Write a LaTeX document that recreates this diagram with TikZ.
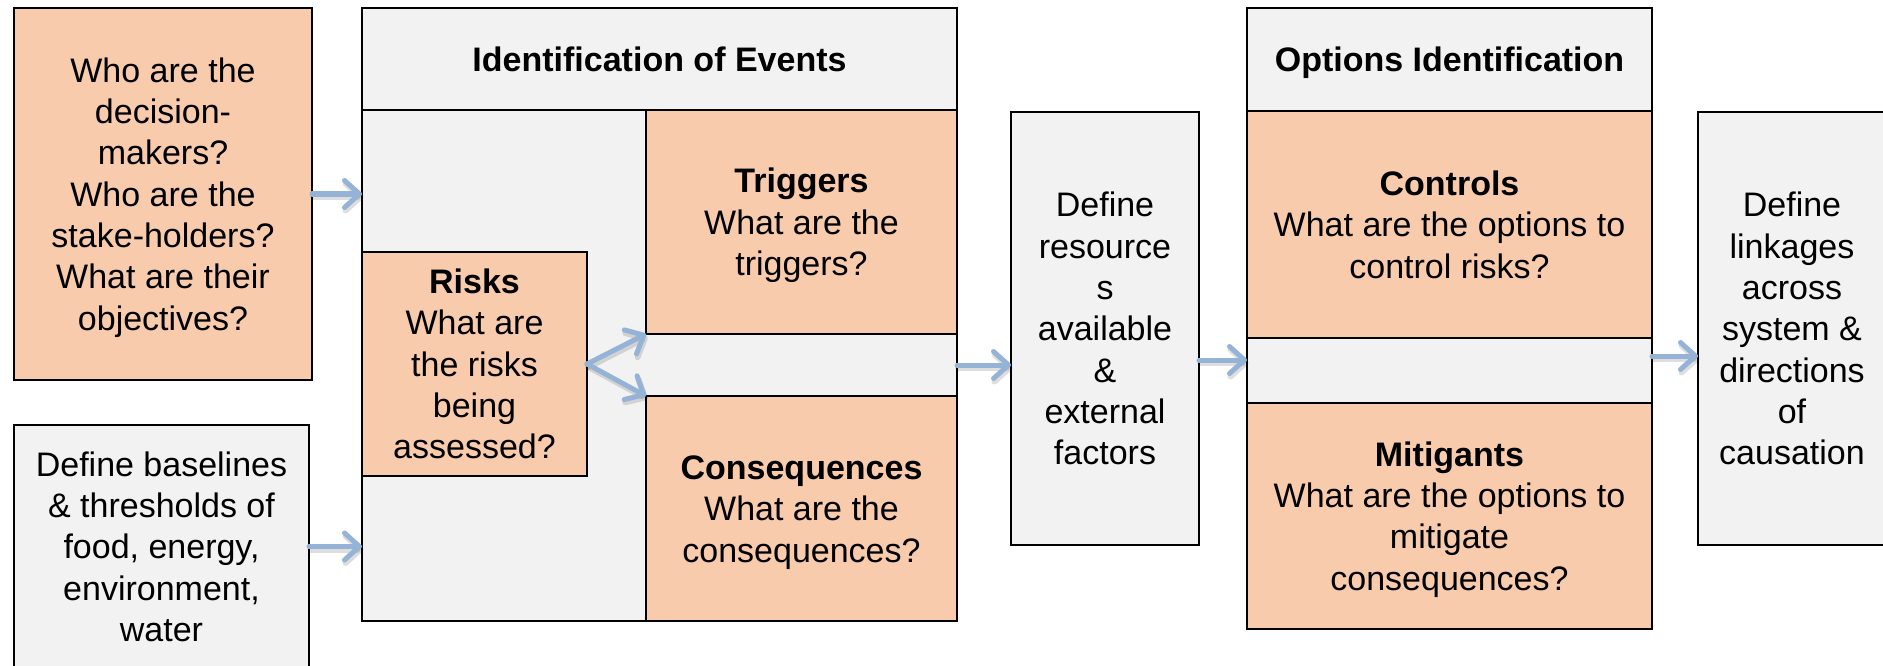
\documentclass[tikz,border=0pt]{standalone}
\usepackage{fontspec}
\setmainfont{Liberation Sans}
\usetikzlibrary{arrows.meta,calc}
\definecolor{peach}{HTML}{F8CBAD}
\definecolor{panel}{HTML}{F2F2F2}
\definecolor{flow}{HTML}{95B3D7}
% fixed line boxes so every label is centred on its lines, descenders or not
\newcommand\firstlinestrut{\rule{0pt}{32.4pt}}
\newcommand\lastlinestrut{\rule[-8pt]{0pt}{8pt}}
\newcommand\lines[1]{\firstlinestrut#1\lastlinestrut}
\tikzset{
  card/.style={draw=black, line width=2pt, inner sep=0pt, outer sep=0pt,
    align=center, font=\fontsize{34}{41.3}\selectfont},
  warm/.style={card, fill=peach},
  cool/.style={card, fill=panel},
  sized/.style 2 args={minimum width=#1pt, minimum height=#2pt},
  tipshape/.style={-{Straight Barb[length=15pt,width=27pt,round]}},
  flowarrow/.style={tipshape, draw=flow, line width=5pt, line cap=round},
  flowshadow/.style={tipshape, draw=black, draw opacity=0.13, line width=6pt,
    line cap=round, transform canvas={shift={(1.5pt,-3pt)}}},
}
\begin{document}
\begin{tikzpicture}[x=1pt, y=-1pt]
  \useasboundingbox (0,0) rectangle (1883,666);
  \clip (0,0) rectangle (1883,666);

  % stakeholders and baselines
  \node[warm, sized={298}{372}] (who) at (163,194)
    {\lines{Who are the\\decision-\\makers?\\Who are the\\stake-holders?\\What are their\\objectives?}};
  \node[cool, sized={295}{243}] (base) at (161.5,546.5)
    {\lines{Define baselines\\\& thresholds of\\food, energy,\\environment,\\water}};

  % identification of events
  \node[cool, sized={595}{613}] (ioe) at (659.5,314.5) {};
  \node[cool, sized={595}{102}] (ioeh) at (659.5,59) {\lines{\textbf{Identification of Events}}};
  \node[warm, sized={311}{224}] (trig) at (801.5,222)
    {\lines{\textbf{Triggers}\\What are the\\triggers?}};
  \node[warm, sized={311}{225}] (cons) at (801.5,508.5)
    {\lines{\textbf{Consequences}\\What are the\\consequences?}};
  \node[warm, sized={225}{224}] (risk) at (474.5,364)
    {\lines{\textbf{Risks}\\What are\\the risks\\being\\assessed?}};

  % resources
  \node[cool, sized={188}{433}] (res) at (1105,328.5)
    {\lines{Define\\resource\\s\\available\\\&\\external\\factors}};

  % options identification
  \node[cool, sized={405}{621}] (opt) at (1449.5,318.5) {};
  \node[cool, sized={405}{103}] (opth) at (1449.5,59.5) {\lines{\textbf{Options Identification}}};
  \node[warm, sized={405}{227}] (ctrl) at (1449.5,224.5)
    {\lines{\textbf{Controls}\\What are the options to\\control risks?}};
  \node[warm, sized={405}{226}] (mit) at (1449.5,516)
    {\lines{\textbf{Mitigants}\\What are the options to\\mitigate\\consequences?}};

  % linkages
  \node[cool, sized={188}{433}] (link) at (1792,328.5)
    {\lines{Define\\linkages\\across\\system \&\\directions\\of\\causation}};

  % connector anchor points
  \coordinate (gapA) at ($(trig.south east)!0.5!(cons.north east)$);
  \coordinate (resOut) at ([yshift=-31.5pt]res.east);
  \coordinate (linkIn) at ([yshift=-27.5pt]link.west);

  % connectors
  \foreach \s in {flowshadow, flowarrow} {
    \draw[\s] (who.east) -- (who.east -| ioe.west);
    \draw[\s] (base.east) -- (base.east -| ioe.west);
    \draw[\s] (risk.east) -- (trig.south west);
    \draw[\s] (risk.east) -- (cons.north west);
    \draw[\s] (gapA) -- (gapA -| res.west);
    \draw[\s] (resOut) -- (resOut -| opt.west);
    \draw[\s] (linkIn -| opt.east) -- (linkIn);
  }
\end{tikzpicture}
\end{document}
